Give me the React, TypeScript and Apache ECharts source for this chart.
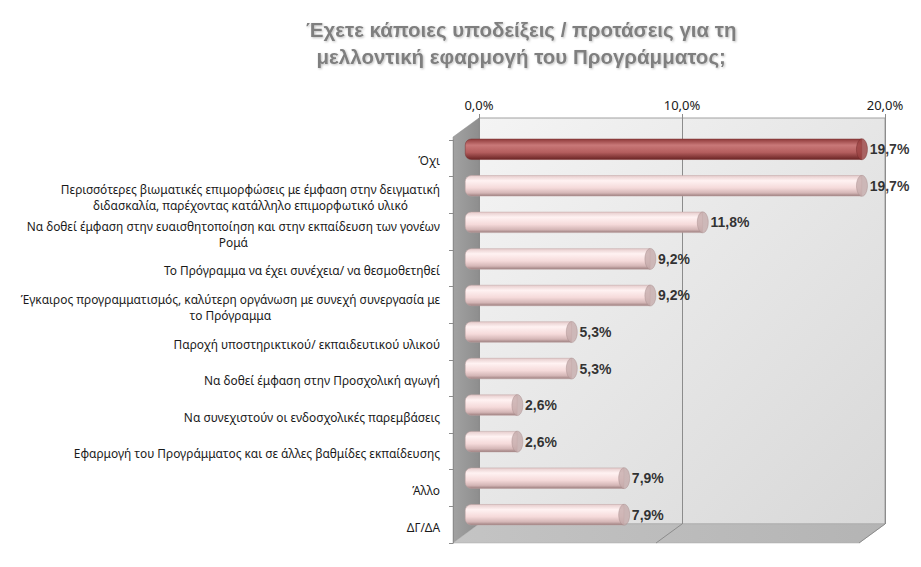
import React, { useEffect, useRef } from "react";
import * as echarts from "echarts";

const titleLines = [
  "Έχετε κάποιες υποδείξεις / προτάσεις για τη",
  "μελλοντική εφαρμογή του Προγράμματος;",
];

const categories = [
  "Όχι",
  "Περισσότερες βιωματικές επιμορφώσεις με έμφαση στην δειγματική\nδιδασκαλία, παρέχοντας κατάλληλο επιμορφωτικό υλικό",
  "Να δοθεί έμφαση στην ευαισθητοποίηση και στην εκπαίδευση των γονέων\nΡομά",
  "Το Πρόγραμμα να έχει συνέχεια/ να θεσμοθετηθεί",
  "Έγκαιρος προγραμματισμός, καλύτερη οργάνωση με συνεχή συνεργασία με\nτο Πρόγραμμα",
  "Παροχή υποστηρικτικού/ εκπαιδευτικού υλικού",
  "Να δοθεί έμφαση στην Προσχολική αγωγή",
  "Να συνεχιστούν οι ενδοσχολικές παρεμβάσεις",
  "Εφαρμογή του Προγράμματος και σε άλλες βαθμίδες εκπαίδευσης",
  "Άλλο",
  "ΔΓ/ΔΑ",
];

const values = [19.7, 19.7, 11.8, 9.2, 9.2, 5.3, 5.3, 2.6, 2.6, 7.9, 7.9];
const highlightIndex = 0;

const axisMin = 0;
const axisMax = 20;
const axisInterval = 10;

const fmt = (v: number) => v.toFixed(1).replace(".", ",") + "%";

// 3D box geometry (back plane and depth offset)
const BL = 479, BR = 885, BT = 118, BB = 524, DX = -26, DY = 19;

const FONT = "'Liberation Sans', Arial, sans-serif";
const LABEL_FONT = "'Noto Sans', 'Liberation Sans', sans-serif";

export default function App() {
  const ref = useRef<HTMLDivElement>(null);

  useEffect(() => {
    if (!ref.current) return;
    const chart = echarts.init(ref.current, undefined, { renderer: "svg" });

    const pinkGrad = new echarts.graphic.LinearGradient(0, 0, 0, 1, [
      { offset: 0, color: "#e6cccc" },
      { offset: 0.25, color: "#fff2f2" },
      { offset: 0.6, color: "#f5dada" },
      { offset: 0.85, color: "#d4b6b6" },
      { offset: 1, color: "#9c7e7e" },
    ]);
    const redGrad = new echarts.graphic.LinearGradient(0, 0, 0, 1, [
      { offset: 0, color: "#8e3a3a" },
      { offset: 0.3, color: "#c97878" },
      { offset: 0.65, color: "#b45e5e" },
      { offset: 1, color: "#6a2424" },
    ]);

    const barData = values.map((v, i) => ({
      value: v,
      itemStyle: {
        color: i === highlightIndex ? redGrad : pinkGrad,
        borderColor: i === highlightIndex ? "#7a3030" : "#bfa3a3",
        borderWidth: 0.5,
      },
    }));
    const capData = values.map((v, i) => ({
      value: [v, i],
      itemStyle: {
        color: i === highlightIndex ? "#9a4242" : "#c6abab",
        borderColor: i === highlightIndex ? "#6e2828" : "#a48a8a",
        borderWidth: 0.5,
      },
    }));

    const wallGradLeft = new echarts.graphic.LinearGradient(0, 0, 1, 0, [
      { offset: 0, color: "#a2a2a2" },
      { offset: 1, color: "#8e8e8e" },
    ]);
    const backGrad = new echarts.graphic.LinearGradient(0, 0, 1, 1, [
      { offset: 0, color: "#f4f4f4" },
      { offset: 1, color: "#d8d8d8" },
    ]);
    const floorGrad = new echarts.graphic.LinearGradient(0, 0, 1, 0, [
      { offset: 0, color: "#c4c4c4" },
      { offset: 1, color: "#b4b4b4" },
    ]);

    const tickStep = (BR - BL) / ((axisMax - axisMin) / axisInterval);
    const floorLines: any[] = [];
    for (let k = 1; k <= (axisMax - axisMin) / axisInterval; k++) {
      const x = BL + k * tickStep;
      floorLines.push({
        type: "line",
        z: -5,
        shape: { x1: x, y1: BB, x2: x + DX, y2: BB + DY },
        style: { stroke: "#8c8c8c", lineWidth: 1 },
      });
    }

    const titleStyle = {
      align: "center",
      fontFamily: FONT,
      fontSize: 20.5,
      fontWeight: "bold",
      color: "#7f7f7f",
      lineHeight: 27,
      textShadowColor: "rgba(0,0,0,0.25)",
      textShadowBlur: 2,
      textShadowOffsetX: 1,
      textShadowOffsetY: 1,
    };

    chart.setOption({
      animation: false,
      backgroundColor: "#ffffff",
      title: {
        text: titleLines.map((l) => `{t|${l}}`).join("\n"),
        left: 301,
        top: 11,
        textStyle: { ...titleStyle, rich: { t: titleStyle } },
      },
      graphic: [
        {
          type: "polygon",
          z: -10,
          shape: { points: [[BL, BT], [BR, BT], [BR, BB], [BL, BB]] },
          style: { fill: backGrad, stroke: "#a0a0a0", lineWidth: 1 },
        },
        {
          type: "polygon",
          z: -9,
          shape: { points: [[BL, BT], [BL, BB], [BL + DX, BB + DY], [BL + DX, BT + DY]] },
          style: { fill: wallGradLeft, stroke: "#8a8a8a", lineWidth: 0.5 },
        },
        {
          type: "polygon",
          z: -9,
          shape: { points: [[BL, BB], [BR, BB], [BR + DX, BB + DY], [BL + DX, BB + DY]] },
          style: { fill: floorGrad, stroke: "#a8a8a8", lineWidth: 0.5 },
        },
        ...floorLines,
      ],
      grid: [
        { left: BL, top: BT, width: BR - BL, height: BB - BT, containLabel: false },
        { left: 465, top: 131, width: 403, height: 402, containLabel: false },
        { left: BL + DX, top: 140, width: BR - BL, height: 403, containLabel: false },
      ],
      xAxis: [
        {
          gridIndex: 0,
          type: "value",
          position: "top",
          min: axisMin,
          max: axisMax,
          interval: axisInterval,
          axisLine: { show: false },
          axisTick: { show: true, length: 4, lineStyle: { color: "#8c8c8c" } },
          axisLabel: {
            formatter: (v: number) => fmt(v),
            fontFamily: LABEL_FONT,
            fontSize: 13,
            color: "#1a1a1a",
            margin: 7,
          },
          splitLine: { show: true, lineStyle: { color: "#8c8c8c", width: 1 } },
        },
        { gridIndex: 1, type: "value", min: axisMin, max: axisMax, show: false },
        { gridIndex: 2, type: "value", min: axisMin, max: axisMax, show: false },
      ],
      yAxis: [
        { gridIndex: 0, type: "category", data: categories, inverse: true, show: false },
        { gridIndex: 1, type: "category", data: categories, inverse: true, show: false },
        {
          gridIndex: 2,
          type: "category",
          data: categories,
          inverse: true,
          axisLine: { show: true, lineStyle: { color: "#8c8c8c" } },
          axisTick: { show: true, length: 4, lineStyle: { color: "#8c8c8c" } },
          axisLabel: {
            margin: 13,
            align: "right",
            padding: [4, 0, 0, 0],
            formatter: (v: string) =>
              v
                .split("\n")
                .map((l) => `{c|${l}}`)
                .join("\n"),
            rich: {
              c: {
                align: "center",
                fontFamily: LABEL_FONT,
                fontSize: 11.9,
                lineHeight: 16,
                color: "#1a1a1a",
              },
            },
          },
          splitLine: { show: false },
        },
      ],
      series: [
        {
          type: "bar",
          xAxisIndex: 1,
          yAxisIndex: 1,
          data: barData,
          barWidth: 21,
          itemStyle: { borderRadius: [6, 0, 0, 6] },
          z: 3,
        },
        {
          type: "scatter",
          xAxisIndex: 1,
          yAxisIndex: 1,
          data: capData,
          symbol: "circle",
          symbolSize: [11, 21],
          z: 4,
          label: {
            show: true,
            position: "right",
            distance: 2,
            formatter: (p: any) => fmt(p.value[0]),
            fontFamily: FONT,
            fontSize: 14,
            fontWeight: "bold",
            color: "#000000",
          },
        },
      ],
    });

    return () => chart.dispose();
  }, []);

  return (
    <div
      ref={ref}
      style={{ position: "fixed", left: 0, top: 0, width: 921, height: 567 }}
    />
  );
}
